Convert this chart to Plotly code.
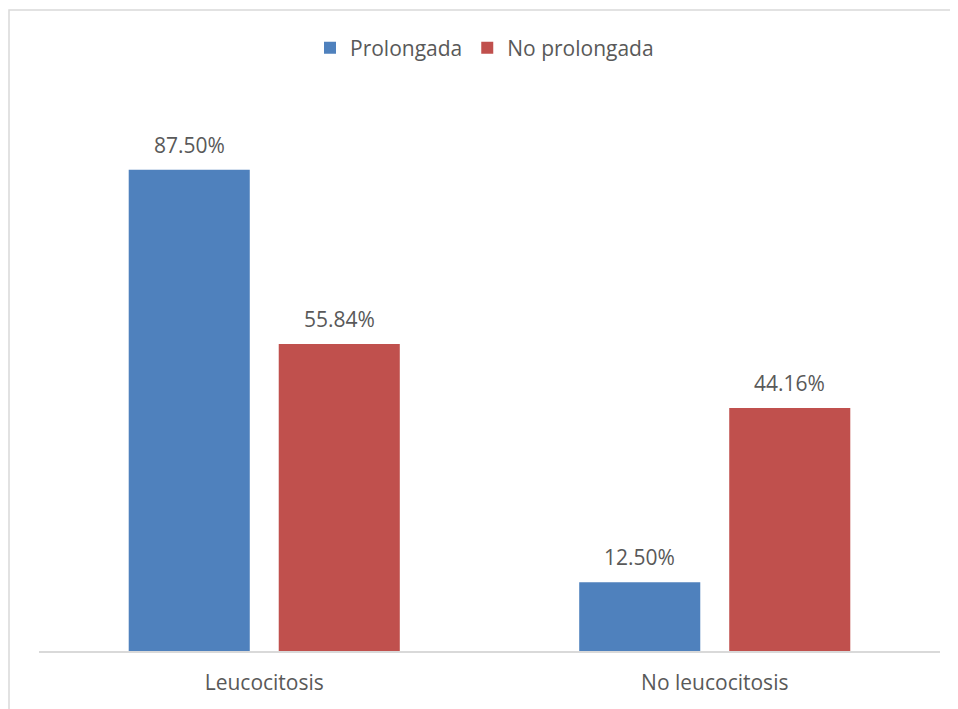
import plotly.graph_objects as go

categories = ["Leucocitosis", "No leucocitosis"]
prolongada = [87.50, 12.50]
no_prolongada = [55.84, 44.16]
series_names = ["Prolongada", "No prolongada"]

# page is placed with an 8px body offset, so figure coords = page coords - 8
W, H = 958, 709
L, T = 31, 93
axis_y = 643
right_x = 932
R = W - right_x
B = H - axis_y
pw = W - L - R
ph = H - T - B

font_family = "Open Sans, Liberation Sans, sans-serif"
txt_color = "#595959"
fs = 21

fig = go.Figure()
fig.add_trace(go.Bar(
    x=categories, y=prolongada, name=series_names[0],
    marker=dict(color="#4F81BD", line=dict(width=0)),
))
fig.add_trace(go.Bar(
    x=categories, y=no_prolongada, name=series_names[1],
    marker=dict(color="#C0504D", line=dict(width=0)),
))

annotations = []
for series, shift in ((prolongada, -75), (no_prolongada, 75)):
    for cat, v in zip(categories, series):
        annotations.append(dict(
            x=cat, y=v, xref="x", yref="y", text=f"{v:.2f}%",
            showarrow=False, xanchor="center", yanchor="bottom",
            xshift=shift, yshift=9,
            font=dict(size=fs, color=txt_color, family=font_family),
        ))

bx = (1 - L) / pw
ty = (axis_y - 2) / ph
fig.update_layout(
    width=W, height=H,
    margin=dict(l=L, r=R, t=T, b=B, autoexpand=False),
    paper_bgcolor="white", plot_bgcolor="white",
    barmode="group", bargap=0.334, bargroupgap=0.193,
    font=dict(family=font_family, color=txt_color, size=fs),
    showlegend=True,
    legend=dict(orientation="h", x=0.5 - 5 / pw, xanchor="center",
                y=1 + (T - 40) / ph, yanchor="middle",
                font=dict(size=fs, color=txt_color), itemwidth=30,
                traceorder="normal"),
    xaxis=dict(showline=True, linecolor="#d9d9d9", linewidth=1.5,
               ticks="", showgrid=False, ticklabelstandoff=12,
               tickfont=dict(size=fs, color=txt_color)),
    yaxis=dict(range=[0, 100], visible=False, showgrid=False, zeroline=False),
    annotations=annotations,
    shapes=[
        dict(type="path", xref="paper", yref="paper",
             path=f"M {bx},-0.3 L {bx},{ty} L 1.2,{ty}",
             line=dict(color="#d9d9d9", width=1.5)),
    ],
)

fig.write_html("out.html")
